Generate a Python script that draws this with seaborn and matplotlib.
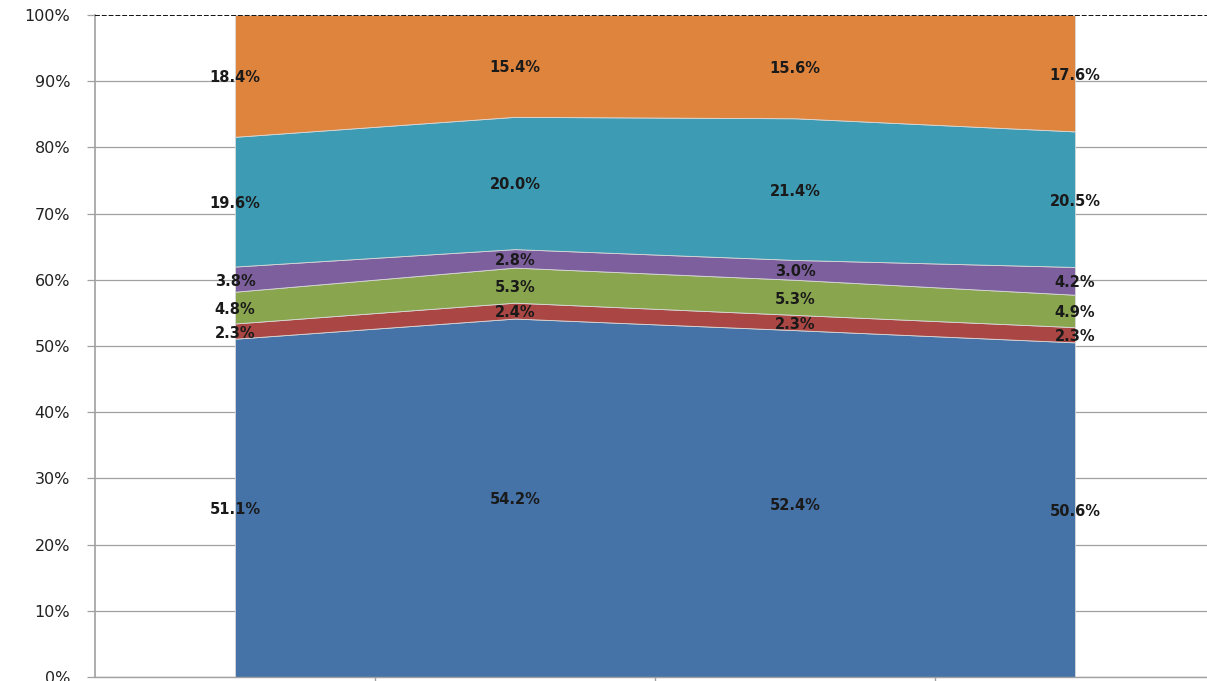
import numpy as np
import pandas as pd
import matplotlib
matplotlib.use("Agg")
import matplotlib.pyplot as plt
import seaborn as sns

# series shares per category (%)
categories = ["A", "B", "C", "D"]
series_1 = [51.1, 54.2, 52.4, 50.6]
series_2 = [2.3, 2.4, 2.3, 2.3]
series_3 = [4.8, 5.3, 5.3, 4.9]
series_4 = [3.8, 2.8, 3.0, 4.2]
series_5 = [19.6, 20.0, 21.4, 20.5]
series_6 = [18.4, 15.4, 15.6, 17.6]
y_ticks = [0, 10, 20, 30, 40, 50, 60, 70, 80, 90, 100]

df = pd.DataFrame({"s1": series_1, "s2": series_2, "s3": series_3,
                   "s4": series_4, "s5": series_5, "s6": series_6},
                  index=categories)
# 100% stacked
shares = df.div(df.sum(axis=1), axis=0)

sns.set_theme(style="white")
plt.rcParams['font.family'] = ['DejaVu Sans']
palette = sns.color_palette(["#4572A7", "#AA4643", "#89A54E",
                             "#7D5F9E", "#3D9BB4", "#DE843D"])

fig = plt.figure(figsize=(12.07, 6.81), dpi=100)
ax = fig.add_axes([95 / 1207, 4 / 681, 1112 / 1207, 662 / 681])

x = np.arange(len(categories))
ax.stackplot(x, shares.T.values, colors=palette, edgecolor="#d8d8d8",
             linewidth=0.6, zorder=2)

# data labels in the middle of each band
cum = shares.cumsum(axis=1)
for i, cat in enumerate(categories):
    for col in df.columns:
        mid = cum.loc[cat, col] - shares.loc[cat, col] / 2
        ax.text(i, mid - 0.003, f"{df.loc[cat, col]:.1f}%", ha="center", va="center",
                fontsize=10.5, fontweight="bold", color="#1a1a1a", zorder=4)

ax.set_xlim(-0.5, -0.5 + 1112 / 280)
ax.set_ylim(0, 1)
ax.set_yticks([t / 100 for t in y_ticks])
ax.set_yticklabels([f"{t}%" for t in y_ticks], fontsize=11.5, color="#222222")
ax.set_xticks([0.5, 1.5, 2.5])
ax.set_xticklabels([])

for t in y_ticks[:-1]:
    ax.axhline(t / 100, color="#a0a0a0", lw=0.9, zorder=1)
ax.axhline(1.0, color="#111111", lw=1.4, ls=(0, (2.5, 1)), zorder=3)

for side in ["top", "right"]:
    ax.spines[side].set_visible(False)
ax.spines["left"].set_color("#a0a0a0")
ax.spines["left"].set_linewidth(1.2)
ax.spines["bottom"].set_color("#a0a0a0")
ax.spines["bottom"].set_linewidth(1.0)
ax.tick_params(axis="y", direction="out", length=6, width=0.9, color="#a0a0a0",
               left=True, pad=12)
ax.tick_params(axis="x", direction="out", length=4, width=1.0, color="#a0a0a0",
               bottom=True)

fig.savefig("out.png", dpi=100)
